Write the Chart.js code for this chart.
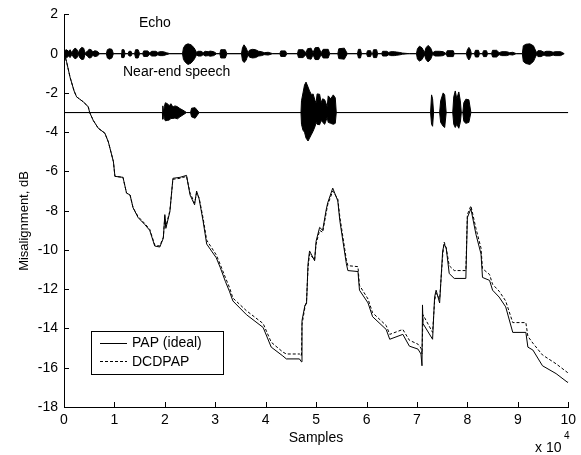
<!DOCTYPE html>
<html>
<head>
<meta charset="utf-8">
<script src="https://cdn.jsdelivr.net/npm/chart.js@4/dist/chart.umd.min.js"></script>
<style>
  html, body { margin: 0; padding: 0; background: #fff; }
  #wrap { width: 581px; height: 455px; }
</style>
</head>
<body>
<div id="wrap"><canvas id="misChart" width="581" height="455"></canvas></div>
<script>
// x in units of 10^4 samples, y in dB

// misalignment, PAP (ideal)
const papCurve = [
  [0,0],[0.05,-0.4],[0.12,-1.2],[0.2,-1.9],[0.25,-2.2],[0.38,-2.45],[0.48,-2.7],[0.51,-3.0],
  [0.58,-3.4],[0.68,-3.8],[0.81,-4.05],[0.88,-4.5],[0.98,-5.5],[1.01,-6.25],[1.17,-6.3],
  [1.24,-7.1],[1.31,-7.2],[1.37,-7.85],[1.47,-8.35],[1.6,-8.7],[1.7,-9.0],[1.8,-9.8],
  [1.9,-9.85],[1.97,-9.4],[2.0,-8.2],[2.02,-8.9],[2.1,-8.05],[2.16,-6.35],[2.3,-6.3],
  [2.43,-6.2],[2.5,-7.2],[2.59,-7.7],[2.63,-7.0],[2.68,-7.4],[2.76,-8.55],[2.83,-9.7],
  [3.02,-10.4],[3.1,-10.9],[3.2,-11.6],[3.28,-12.1],[3.35,-12.6],[3.62,-13.3],[3.95,-13.95],
  [4.11,-14.95],[4.34,-15.4],[4.41,-15.55],[4.67,-15.55],[4.71,-15.7],[4.72,-13.6],
  [4.78,-12.8],[4.81,-12.75],[4.84,-10.7],[4.87,-10.05],[4.97,-10.55],[5.0,-9.55],
  [5.07,-8.85],[5.13,-9.0],[5.2,-7.95],[5.23,-7.6],[5.33,-6.85],[5.43,-7.5],[5.47,-8.5],
  [5.6,-10.7],[5.63,-11.05],[5.83,-11.1],[5.86,-12.05],[6.03,-12.7],[6.12,-13.4],
  [6.39,-14.05],[6.46,-14.55],[6.72,-14.3],[6.85,-14.9],[7.02,-15.05],[7.08,-15.3],
  [7.1,-15.9],[7.11,-12.8],[7.12,-13.75],[7.31,-14.55],[7.35,-12.4],[7.38,-12.05],
  [7.45,-12.7],[7.51,-10.05],[7.54,-9.7],[7.58,-9.9],[7.64,-11.2],[7.74,-11.45],
  [7.97,-11.45],[8.0,-8.35],[8.07,-7.9],[8.17,-9.2],[8.27,-10.2],[8.3,-11.4],[8.44,-11.55],
  [8.5,-12.05],[8.63,-12.4],[8.76,-12.9],[8.9,-14.2],[9.16,-14.2],[9.2,-14.95],[9.3,-15.1],
  [9.49,-15.9],[9.76,-16.3],[9.99,-16.75],[10,-16.7]
];

// misalignment, DCDPAP
const dcdCurve = [
  [0,0],[0.05,-0.4],[0.12,-1.2],[0.2,-1.9],[0.25,-2.2],[0.38,-2.45],[0.48,-2.7],[0.51,-3.0],
  [0.58,-3.4],[0.68,-3.8],[0.81,-4.05],[0.88,-4.5],[0.98,-5.5],[1.01,-6.25],[1.17,-6.3],
  [1.24,-7.1],[1.31,-7.2],[1.37,-7.85],[1.47,-8.3],[1.6,-8.65],[1.7,-8.95],[1.8,-9.75],
  [1.9,-9.8],[1.97,-9.35],[2.0,-8.3],[2.02,-8.8],[2.1,-8.0],[2.16,-6.4],[2.3,-6.35],
  [2.43,-6.25],[2.5,-7.1],[2.59,-7.6],[2.63,-7.1],[2.68,-7.35],[2.76,-8.4],[2.83,-9.5],
  [3.02,-10.25],[3.1,-10.75],[3.2,-11.4],[3.28,-11.9],[3.35,-12.45],[3.62,-13.1],[3.95,-13.75],
  [4.11,-14.7],[4.34,-15.2],[4.41,-15.3],[4.67,-15.3],[4.71,-15.4],[4.72,-13.8],
  [4.78,-12.9],[4.81,-12.6],[4.84,-10.9],[4.87,-10.2],[4.97,-10.5],[5.0,-9.7],
  [5.07,-9.0],[5.13,-9.1],[5.2,-8.1],[5.23,-7.7],[5.33,-7.0],[5.43,-7.4],[5.47,-8.3],
  [5.6,-10.5],[5.63,-10.8],[5.83,-10.85],[5.86,-11.8],[6.03,-12.5],[6.12,-13.2],
  [6.39,-13.85],[6.46,-14.3],[6.72,-14.05],[6.85,-14.6],[7.02,-14.8],[7.08,-15.0],
  [7.1,-15.3],[7.12,-13.3],[7.31,-14.2],[7.35,-12.6],[7.38,-12.2],[7.45,-12.5],
  [7.51,-10.3],[7.54,-9.6],[7.58,-9.9],[7.64,-10.8],[7.74,-11.05],[7.97,-11.05],
  [8.0,-8.2],[8.07,-7.75],[8.17,-8.9],[8.27,-9.9],[8.3,-10.95],[8.44,-11.25],
  [8.5,-11.75],[8.63,-12.1],[8.76,-12.6],[8.9,-13.7],[9.16,-13.7],[9.2,-14.4],[9.3,-14.75],
  [9.49,-15.35],[9.76,-15.8],[9.99,-16.25],[10,-16.2]
];

// echo signal envelope around 0: [x, top, bottom]
const echoEnv = [
  [0,0,0],
  [0.01,0.15,-0.15],[0.05,0.2,-0.22],[0.09,0.12,-0.12],[0.12,0.2,-0.2],[0.16,0.03,-0.03],
  [0.18,0.18,-0.16],[0.22,0.28,-0.26],[0.26,0.2,-0.2],[0.28,0.02,-0.02],
  [0.31,0.2,-0.2],[0.35,0.32,-0.3],[0.39,0.28,-0.28],[0.42,0.02,-0.02],
  [0.47,0.15,-0.15],[0.50,0.22,-0.22],[0.54,0.2,-0.2],[0.57,0.08,-0.08],[0.61,0.15,-0.15],[0.66,0.12,-0.12],[0.71,0,0],
  [0.84,0,0],[0.86,0.2,-0.22],[0.90,0.25,-0.28],[0.95,0.22,-0.22],[0.98,0,0],
  [1.14,0,0],[1.15,0.2,-0.2],[1.19,0.2,-0.2],[1.21,0,0],
  [1.27,0,0],[1.29,0.12,-0.12],[1.33,0.12,-0.12],[1.35,0,0],
  [1.40,0,0],[1.42,0.2,-0.22],[1.47,0.2,-0.22],[1.50,0,0],
  [1.56,0,0],[1.58,0.14,-0.14],[1.66,0.14,-0.14],[1.70,0.04,-0.04],[1.74,0.12,-0.12],[1.82,0.12,-0.12],
  [1.86,0.06,-0.06],[1.90,0.1,-0.1],[1.97,0.1,-0.1],[2.03,0.05,-0.05],[2.10,0,0],
  [2.35,0,0],[2.37,0.3,-0.3],[2.41,0.45,-0.45],[2.46,0.5,-0.55],[2.52,0.45,-0.48],[2.58,0.3,-0.3],[2.63,0.06,-0.06],
  [2.66,0.12,-0.12],[2.72,0.12,-0.12],[2.76,0.05,-0.05],[2.80,0.12,-0.12],[2.86,0.1,-0.1],[2.90,0.13,-0.13],
  [2.97,0.1,-0.1],[3.03,0,0],
  [3.09,0,0],[3.11,0.2,-0.22],[3.20,0.2,-0.22],[3.23,0,0],
  [3.52,0,0],[3.54,0.3,-0.35],[3.57,0.45,-0.45],[3.61,0.3,-0.35],[3.65,0.05,-0.05],
  [3.68,0.18,-0.18],[3.74,0.22,-0.22],[3.80,0.2,-0.2],[3.86,0.12,-0.12],[3.92,0.1,-0.1],[3.97,0.05,-0.05],
  [4.05,0.07,-0.07],[4.14,0,0],
  [4.28,0,0],[4.30,0.14,-0.14],[4.39,0.14,-0.14],[4.42,0,0],
  [4.63,0,0],[4.65,0.2,-0.2],[4.74,0.2,-0.2],[4.80,0.05,-0.05],[4.83,0.25,-0.25],[4.90,0.28,-0.28],
  [4.94,0.05,-0.05],[4.98,0.3,-0.3],[5.05,0.32,-0.3],[5.10,0.05,-0.05],[5.14,0.22,-0.22],[5.24,0.22,-0.22],[5.27,0,0],
  [5.43,0,0],[5.45,0.25,-0.25],[5.56,0.28,-0.28],[5.62,0,0],
  [5.82,0,0],[5.84,0.22,-0.22],[5.88,0.22,-0.22],[5.90,0,0],
  [6.00,0,0],[6.02,0.15,-0.15],[6.08,0.15,-0.15],[6.10,0,0],
  [6.12,0,0],[6.14,0.2,-0.2],[6.20,0.2,-0.2],[6.22,0,0],
  [6.30,0,0],[6.32,0.12,-0.12],[6.40,0.12,-0.12],[6.44,0.06,-0.06],[6.48,0.1,-0.1],[6.55,0.1,-0.1],
  [6.60,0.08,-0.08],[6.66,0.06,-0.06],[6.71,0.03,-0.03],[6.85,0,0],
  [6.99,0,0],[7.01,0.25,-0.28],[7.05,0.38,-0.38],[7.10,0.3,-0.3],[7.15,0.06,-0.06],
  [7.18,0.3,-0.3],[7.22,0.42,-0.42],[7.27,0.3,-0.3],[7.31,0.04,-0.04],
  [7.36,0.12,-0.12],[7.45,0.12,-0.12],[7.52,0.1,-0.1],[7.58,0,0],
  [7.60,0.15,-0.15],[7.72,0.15,-0.15],[7.74,0,0],
  [7.98,0,0],[8.00,0.2,-0.2],[8.03,0.32,-0.32],[8.06,0.2,-0.2],[8.08,0,0],
  [8.14,0,0],[8.16,0.17,-0.17],[8.22,0.17,-0.17],[8.24,0,0],
  [8.30,0,0],[8.32,0.15,-0.15],[8.38,0.15,-0.15],[8.40,0,0],
  [8.48,0,0],[8.50,0.17,-0.17],[8.58,0.17,-0.17],[8.63,0.05,-0.05],[8.68,0.1,-0.1],[8.78,0.1,-0.1],
  [8.84,0.05,-0.05],[8.90,0.07,-0.07],[8.97,0,0],
  [9.09,0,0],[9.11,0.4,-0.4],[9.16,0.48,-0.5],[9.24,0.5,-0.55],[9.31,0.4,-0.4],[9.37,0.06,-0.06],
  [9.40,0.15,-0.15],[9.46,0.15,-0.15],[9.52,0.07,-0.07],[9.56,0.12,-0.12],[9.64,0.12,-0.12],
  [9.70,0.07,-0.07],[9.74,0.1,-0.1],[9.85,0.1,-0.1],[9.92,0,0]
];

// near-end speech envelope around -3: [x, top, bottom]
const nearEnv = [
  [0,-3,-3],
  [1.95,-3,-3],[1.96,-2.66,-3.34],[1.975,-3,-3],[1.99,-2.7,-3.3],[2.01,-2.5,-3.42],[2.05,-2.55,-3.4],
  [2.09,-2.65,-3.38],[2.12,-2.55,-3.3],[2.16,-2.72,-3.3],[2.2,-2.66,-3.28],[2.25,-2.7,-3.32],
  [2.3,-2.8,-3.22],[2.36,-2.88,-3.12],[2.43,-3,-3],
  [2.51,-3,-3],[2.53,-2.78,-3.22],[2.6,-2.75,-3.29],[2.68,-3,-3],
  [4.70,-3,-3],[4.71,-2.4,-3.6],[4.74,-2.0,-3.9],[4.77,-1.6,-4.0],[4.80,-1.45,-4.3],[4.84,-1.7,-4.45],
  [4.87,-1.9,-4.3],[4.91,-2.1,-4.1],[4.94,-2.05,-3.95],[4.98,-2.4,-3.7],[5.00,-2.5,-3.5],[5.02,-2.05,-3.6],
  [5.07,-2.07,-3.62],[5.10,-2.5,-3.4],[5.13,-2.3,-3.5],[5.17,-2.35,-3.6],[5.22,-2.7,-3.25],[5.24,-2.15,-3.5],
  [5.29,-2.3,-3.55],[5.34,-2.1,-3.6],[5.38,-2.25,-3.55],[5.40,-3,-3],
  [7.27,-3,-3],[7.29,-2.1,-3.6],[7.31,-2.3,-3.7],[7.33,-3,-3],
  [7.45,-3,-3],[7.47,-2.4,-3.5],[7.52,-2.0,-3.7],[7.55,-2.1,-3.76],[7.58,-3,-3],
  [7.71,-3,-3],[7.73,-2.2,-3.6],[7.76,-1.9,-3.76],[7.79,-2.3,-3.6],[7.83,-1.95,-3.8],[7.86,-2.4,-3.5],[7.88,-3,-3],
  [7.91,-3,-3],[7.93,-2.5,-3.45],[7.97,-2.32,-3.55],[8.03,-2.35,-3.5],[8.07,-3,-3],
  [10,-3,-3]
];

const xTicks = [0,1,2,3,4,5,6,7,8,9,10];
const yTicks = [2,0,-2,-4,-6,-8,-10,-12,-14,-16,-18];
const seriesNames = ['PAP (ideal)', 'DCDPAP'];

const FONT = '"Liberation Sans", Arial, sans-serif';

const toXY = arr => arr.map(p => ({ x: p[0], y: p[1] }));
const envTop = arr => arr.map(p => ({ x: p[0], y: p[1] }));
const envBottom = arr => arr.map(p => ({ x: p[0], y: p[2] }));

const lineBase = {
  borderColor: '#000',
  borderWidth: 1,
  pointRadius: 0,
  tension: 0,
  fill: false
};

// inward ticks, texts, legend box
const matlabDecor = {
  id: 'matlabDecor',
  afterDraw(chart) {
    const ctx = chart.ctx;
    const xs = chart.scales.x, ys = chart.scales.y;
    const a = chart.chartArea;
    ctx.save();
    ctx.strokeStyle = '#000';
    ctx.lineWidth = 1;
    ctx.beginPath();
    xTicks.forEach(v => {
      const px = Math.round(xs.getPixelForValue(v)) + 0.5;
      ctx.moveTo(px, a.bottom);
      ctx.lineTo(px, a.bottom - 5);
    });
    yTicks.forEach(v => {
      const py = Math.round(ys.getPixelForValue(v)) + 0.5;
      ctx.moveTo(a.left, py);
      ctx.lineTo(a.left + 5, py);
    });
    ctx.stroke();

    ctx.fillStyle = '#000';
    ctx.font = '14px ' + FONT;
    ctx.textBaseline = 'alphabetic';
    ctx.textAlign = 'left';
    ctx.fillText('Echo', 139, 27);
    ctx.fillText('Near-end speech', 123, 76);

    ctx.textAlign = 'center';
    ctx.fillText('Samples', 316, 442);
    ctx.textAlign = 'left';
    ctx.fillText('x 10', 535, 452);
    ctx.font = '10px ' + FONT;
    ctx.fillText('4', 564, 439);

    ctx.save();
    ctx.translate(28, 221);
    ctx.rotate(-Math.PI / 2);
    ctx.textAlign = 'center';
    ctx.font = '13px ' + FONT;
    ctx.fillText('Misalignment, dB', 0, 0);
    ctx.restore();

    // legend
    ctx.fillStyle = '#fff';
    ctx.fillRect(92, 332, 131, 42);
    ctx.strokeRect(91.5, 331.5, 132, 43);
    ctx.beginPath();
    ctx.moveTo(100, 343.5); ctx.lineTo(127, 343.5);
    ctx.stroke();
    ctx.setLineDash([3, 2]);
    ctx.beginPath();
    ctx.moveTo(100, 361.5); ctx.lineTo(127, 361.5);
    ctx.stroke();
    ctx.setLineDash([]);
    ctx.fillStyle = '#000';
    ctx.font = '14px ' + FONT;
    ctx.textAlign = 'left';
    ctx.textBaseline = 'middle';
    ctx.fillText(seriesNames[0], 132, 343);
    ctx.fillText(seriesNames[1], 132, 362);
    ctx.restore();
  }
};

new Chart(document.getElementById('misChart'), {
  type: 'line',
  data: {
    datasets: [
      { ...lineBase, label: seriesNames[0], data: toXY(papCurve) },
      { ...lineBase, label: seriesNames[1], data: toXY(dcdCurve), borderDash: [3, 2] },
      { ...lineBase, label: 'echo+', data: envTop(echoEnv) },
      { ...lineBase, label: 'echo-', data: envBottom(echoEnv), fill: '-1', backgroundColor: '#000' },
      { ...lineBase, label: 'near+', data: envTop(nearEnv) },
      { ...lineBase, label: 'near-', data: envBottom(nearEnv), fill: '-1', backgroundColor: '#000' }
    ]
  },
  options: {
    responsive: false,
    animation: false,
    layout: { padding: { top: 12, right: 12, left: 0, bottom: 0 } },
    scales: {
      x: {
        type: 'linear',
        min: 0, max: 10,
        afterBuildTicks: s => { s.ticks = xTicks.map(v => ({ value: v })); },
        afterFit: s => { s.height = 48; },
        ticks: { color: '#000', font: { family: FONT, size: 14 }, padding: 5, maxRotation: 0 },
        grid: { display: false, drawTicks: false },
        border: { display: true, color: '#000', width: 1 }
      },
      y: {
        min: -18, max: 2,
        afterBuildTicks: s => { s.ticks = yTicks.map(v => ({ value: v })); },
        afterFit: s => { s.width = 64; },
        ticks: { color: '#000', font: { family: FONT, size: 14 }, padding: 6 },
        grid: { display: false, drawTicks: false },
        border: { display: true, color: '#000', width: 1 }
      }
    },
    plugins: {
      legend: { display: false },
      tooltip: { enabled: false }
    }
  },
  plugins: [matlabDecor]
});
</script>
</body>
</html>
